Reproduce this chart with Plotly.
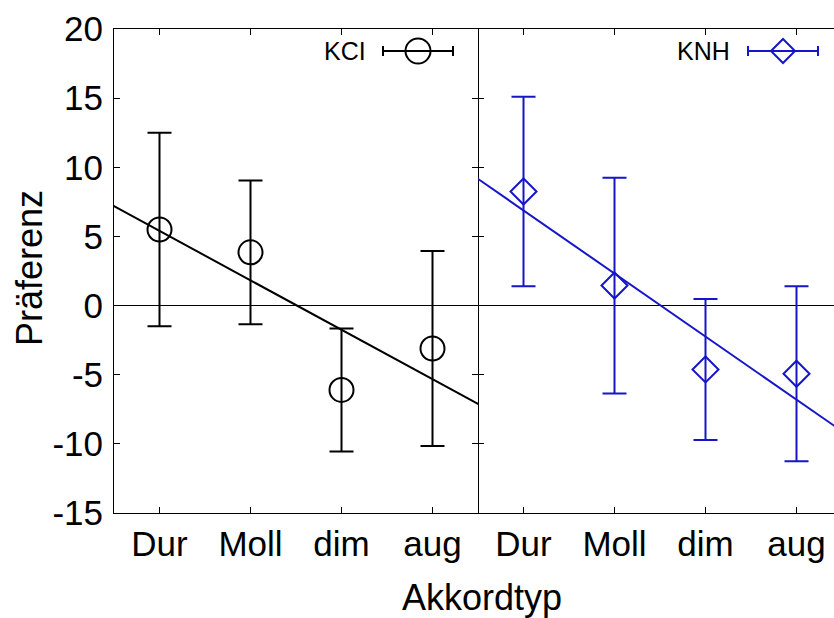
import numpy as np
import plotly.graph_objects as go

# Chord types and preference ratings (mean +/- error) for the two groups
chords = ["Dur", "Moll", "dim", "aug"]
kci_mean = [5.5, 3.85, -6.1, -3.1]
kci_err = [7.0, 5.2, 4.45, 7.05]
knh_mean = [8.25, 1.45, -4.62, -4.93]
knh_err = [6.85, 7.8, 5.1, 6.32]
y_ticks = [-15, -10, -5, 0, 5, 10, 15, 20]
y_tick_text = [str(v) for v in y_ticks]

W, H = 834, 618
ML, MR, MT, MB = 114, 0, 29, 105
SPLIT = 478                     # pixel position of the panel divider
FONT = "Liberation Sans, Arial, Helvetica, sans-serif"
BLACK = "#000000"
BLUE = "#1616c8"

xs = np.arange(1, len(chords) + 1)
plot_w = W - ML - MR
plot_h = H - MT - MB
d = (SPLIT - ML) / plot_w
unit_px = (SPLIT - ML) / len(chords)
right_max = 0.5 + (W - MR - SPLIT) / unit_px


def px_x(px):
    return (px - ML) / plot_w


def px_y(py):
    return (H - MB - py) / plot_h


def fit_line(means):
    slope, icpt = np.polyfit(xs, means, 1)
    lx = np.array([0.0, 5.0])
    return lx, slope * lx + icpt


fig = go.Figure()

panels = [
    (kci_mean, kci_err, BLACK, "circle-open", 24, "x", "y"),
    (knh_mean, knh_err, BLUE, "diamond-open", 20, "x2", "y2"),
]
for means, errs, col, sym, msize, xa, ya in panels:
    lx, ly = fit_line(means)
    fig.add_trace(go.Scatter(
        x=lx, y=ly, mode="lines", line=dict(color=col, width=2),
        xaxis=xa, yaxis=ya, showlegend=False, hoverinfo="skip"))
    fig.add_trace(go.Scatter(
        x=xs, y=means, mode="markers",
        marker=dict(symbol=sym, size=msize, color=col, line=dict(color=col, width=2)),
        error_y=dict(type="data", array=errs, symmetric=True, color=col,
                     thickness=2, width=12),
        xaxis=xa, yaxis=ya, showlegend=False))

axis_common = dict(
    linecolor=BLACK, linewidth=1,
    ticks="inside", ticklen=6, tickwidth=1, tickcolor=BLACK,
    showgrid=False, tickfont=dict(family=FONT, size=35, color=BLACK),
)

fig.update_layout(
    width=W, height=H,
    margin=dict(l=ML, r=MR, t=MT, b=MB, pad=0),
    paper_bgcolor="white", plot_bgcolor="white",
    font=dict(family=FONT, color=BLACK),
    showlegend=False,
    xaxis=dict(domain=[0, d], range=[0.5, 4.5], tickvals=list(xs), ticktext=chords,
               showline=True, mirror="ticks", zeroline=False, anchor="y",
               ticklabelstandoff=0, **axis_common),
    yaxis=dict(domain=[0, 1], range=[-15, 20], tickvals=y_ticks, ticktext=y_tick_text,
               showline=True, mirror="ticks", zeroline=True, zerolinecolor=BLACK,
               zerolinewidth=1, anchor="x", ticklabelstandoff=3, **axis_common),
    xaxis2=dict(domain=[d, 1], range=[0.5, right_max], tickvals=list(xs), ticktext=chords,
                showline=True, mirror="ticks", zeroline=False, anchor="y2",
                ticklabelstandoff=0, **axis_common),
    # the divider line is already drawn by the left panel's mirrored axis
    yaxis2=dict(domain=[0, 1], range=[-15, 20], tickvals=y_ticks, showticklabels=False,
                showline=False, mirror=False, zeroline=True, zerolinecolor=BLACK,
                zerolinewidth=1, anchor="x2", **axis_common),
)

# Axis titles
fig.add_annotation(text="Akkordtyp", xref="paper", yref="paper",
                   x=px_x(482), y=px_y(597), xanchor="center", yanchor="middle",
                   showarrow=False, font=dict(family=FONT, size=36, color=BLACK))
fig.add_annotation(text="Präferenz", xref="paper", yref="paper",
                   x=px_x(29), y=px_y(268), xanchor="center", yanchor="middle",
                   textangle=-90, showarrow=False,
                   font=dict(family=FONT, size=36, color=BLACK))

# Key entries: label, error-bar sample and marker glyph
keys = [
    ("KCI", 368, 383, 453, BLACK, "circle"),
    ("KNH", 732, 748, 818, BLUE, "diamond"),
]
ky = 51
for label, tx, x0, x1, col, glyph in keys:
    fig.add_annotation(text=label, xref="paper", yref="paper",
                       x=px_x(tx), y=px_y(ky), xanchor="right", yanchor="middle",
                       showarrow=False, font=dict(family=FONT, size=25, color=BLACK))
    line = dict(color=col, width=2)
    fig.add_shape(type="line", xref="paper", yref="paper",
                  x0=px_x(x0), x1=px_x(x1), y0=px_y(ky), y1=px_y(ky), line=line)
    for cx in (x0, x1):
        fig.add_shape(type="line", xref="paper", yref="paper",
                      x0=px_x(cx), x1=px_x(cx), y0=px_y(ky - 5), y1=px_y(ky + 5), line=line)
    mx = (x0 + x1) / 2
    if glyph == "circle":
        r = 12.5
        fig.add_shape(type="circle", xref="paper", yref="paper",
                      x0=px_x(mx - r), x1=px_x(mx + r), y0=px_y(ky - r), y1=px_y(ky + r),
                      line=line)
    else:
        r = 12
        path = "M {} {} L {} {} L {} {} L {} {} Z".format(
            px_x(mx - r), px_y(ky), px_x(mx), px_y(ky - r),
            px_x(mx + r), px_y(ky), px_x(mx), px_y(ky + r))
        fig.add_shape(type="path", xref="paper", yref="paper", path=path, line=line)

fig.write_html("out.html")
